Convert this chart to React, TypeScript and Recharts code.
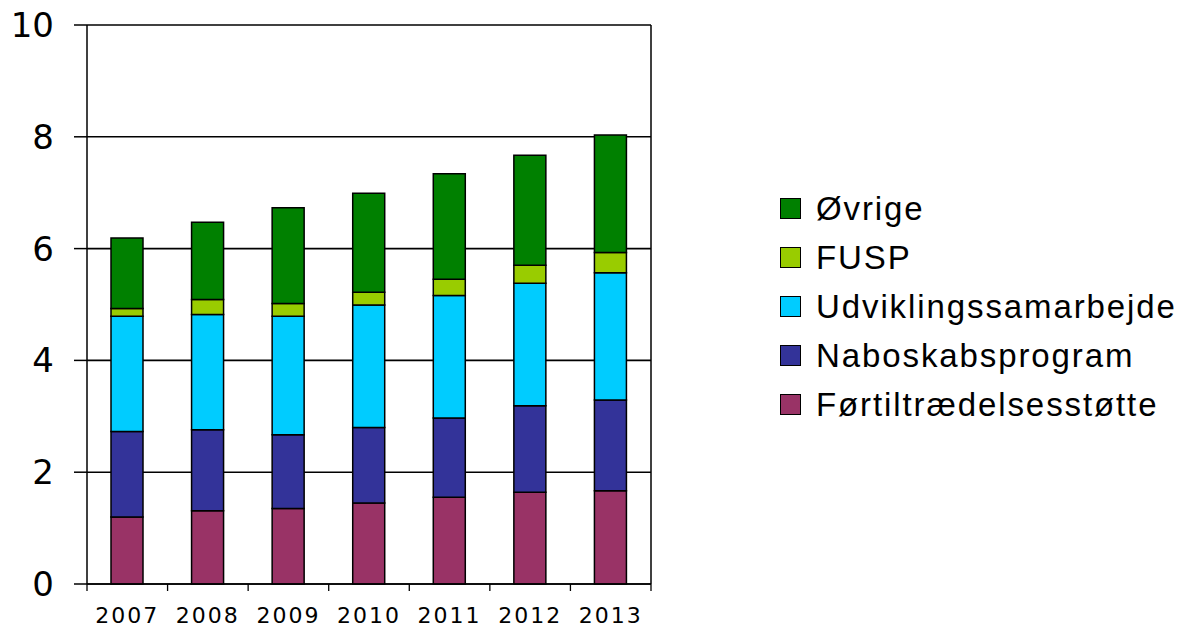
import { BarChart, Bar, XAxis, YAxis, CartesianGrid } from "recharts";

const years = ["2007", "2008", "2009", "2010", "2011", "2012", "2013"];
const fortiltraedelse = [1.2, 1.31, 1.35, 1.45, 1.55, 1.64, 1.67];
const naboskab = [1.53, 1.45, 1.32, 1.35, 1.42, 1.55, 1.62];
const udvikling = [2.06, 2.06, 2.12, 2.19, 2.19, 2.19, 2.28];
const fusp = [0.14, 0.27, 0.23, 0.23, 0.29, 0.32, 0.36];
const ovrige = [1.26, 1.38, 1.71, 1.77, 1.89, 1.97, 2.1];
const yTicks = [0, 2, 4, 6, 8, 10];

const series = [
  { key: "fortiltraedelse", name: "Førtiltrædelsesstøtte", color: "#993366", values: fortiltraedelse },
  { key: "naboskab", name: "Naboskabsprogram", color: "#333399", values: naboskab },
  { key: "udvikling", name: "Udviklingssamarbejde", color: "#00CCFF", values: udvikling },
  { key: "fusp", name: "FUSP", color: "#99CC00", values: fusp },
  { key: "ovrige", name: "Øvrige", color: "#008000", values: ovrige },
];

const data = years.map((year, i) => {
  const row: Record<string, string | number> = { year };
  series.forEach((s) => {
    row[s.key] = s.values[i];
  });
  return row;
});

const W = 1190;
const H = 628;
const PLOT_LEFT = 87;
const PLOT_RIGHT = 651;
const band = (PLOT_RIGHT - PLOT_LEFT) / years.length;

// tick marks sit on the category borders, labels in the middle
const XTick = (props: any) => {
  const { x, y, payload, index } = props;
  return (
    <g>
      <line x1={x - band / 2} x2={x - band / 2} y1={y} y2={y + 7} stroke="#000" strokeWidth={1.3} />
      {index === years.length - 1 && (
        <line x1={x + band / 2} x2={x + band / 2} y1={y} y2={y + 7} stroke="#000" strokeWidth={1.3} />
      )}
      <text
        x={x}
        y={y + 39}
        textAnchor="middle"
        fontFamily="DejaVu Sans"
        fontSize={22}
        letterSpacing={2}
        fill="#000"
      >
        {payload.value}
      </text>
    </g>
  );
};

const yTickStyle = { fontFamily: "DejaVu Sans", fontSize: 34, fill: "#000" };

export default function App() {
  return (
    <div style={{ position: "absolute", left: 0, top: 0, width: W, height: H, background: "#fff" }}>
      <BarChart
        width={W}
        height={H}
        data={data}
        margin={{ top: 25, right: 0, left: 0, bottom: 0 }}
      >
        <CartesianGrid vertical={false} yAxisId="left" stroke="#000" strokeWidth={1.6} />
        <XAxis
          dataKey="year"
          tick={<XTick />}
          tickLine={false}
          tickSize={0}
          tickMargin={0}
          axisLine={{ stroke: "#000", strokeWidth: 1.5 }}
          interval={0}
          height={44}
        />
        <YAxis
          yAxisId="left"
          orientation="left"
          width={PLOT_LEFT}
          domain={[0, 10]}
          ticks={yTicks}
          tickSize={13}
          tickMargin={20}
          tick={yTickStyle}
          tickLine={{ stroke: "#000", strokeWidth: 1.5 }}
          axisLine={{ stroke: "#000", strokeWidth: 1.5 }}
          interval={0}
        />
        <YAxis
          yAxisId="right"
          orientation="right"
          width={W - PLOT_RIGHT}
          domain={[0, 10]}
          ticks={yTicks}
          tickSize={10}
          tickMargin={21}
          tick={yTickStyle}
          tickLine={{ stroke: "#000", strokeWidth: 1.5 }}
          axisLine={{ stroke: "#000", strokeWidth: 1.5 }}
          interval={0}
        />
        {series.map((s) => (
          <Bar
            key={s.key}
            yAxisId="left"
            dataKey={s.key}
            name={s.name}
            stackId="a"
            fill={s.color}
            stroke="#000"
            strokeWidth={1.5}
            barSize={32}
            isAnimationActive={false}
          />
        ))}
      </BarChart>
      <div style={{ position: "absolute", left: 780, top: 184 }}>
        {[...series].reverse().map((s) => (
          <div key={s.key} style={{ display: "flex", alignItems: "center", height: 49 }}>
            <div
              style={{
                width: 19,
                height: 19,
                background: s.color,
                border: "1px solid #000",
                marginRight: 15,
                flexShrink: 0,
              }}
            />
            <span
              style={{
                fontFamily: "Liberation Sans",
                fontSize: 33,
                letterSpacing: 1.9,
                color: "#000",
                whiteSpace: "nowrap",
                lineHeight: "49px",
              }}
            >
              {s.name}
            </span>
          </div>
        ))}
      </div>
    </div>
  );
}
